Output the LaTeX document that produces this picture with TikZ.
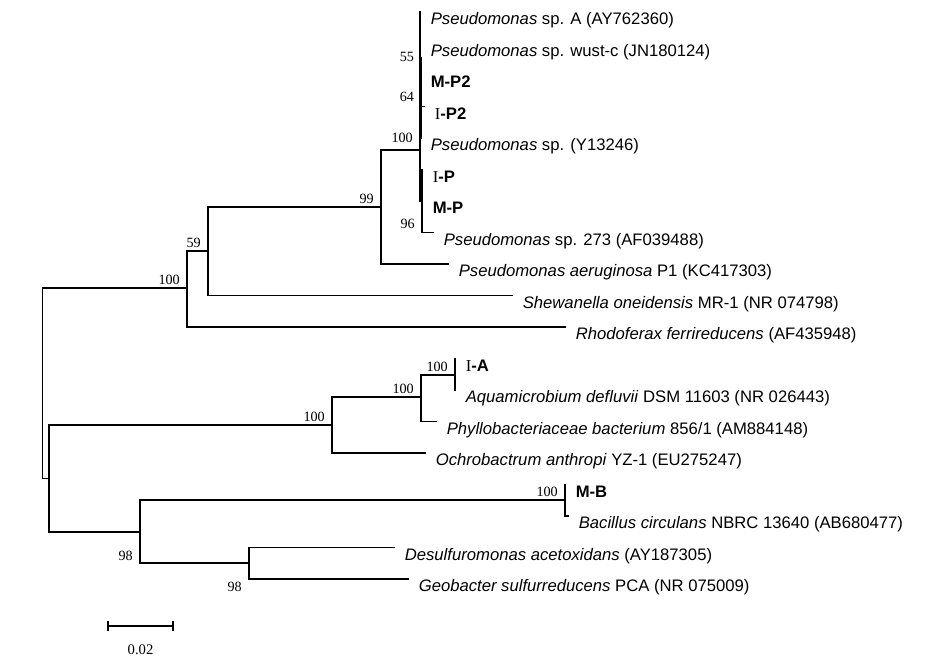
\documentclass[tikz,border=0pt]{standalone}
\usepackage{fontspec}
\setmainfont{Liberation Sans}
\newfontfamily\timesfont{Liberation Serif}
\usepackage{tikz}
\usetikzlibrary{calc}
\tikzset{
	% tree lines, taxon labels and bootstrap values
	branch/.style={line width=1.1pt,line cap=rect},
	leaf/.style={anchor=base west,inner sep=0,xshift=7.9pt,yshift=-9.4pt,font=\fontsize{12.5}{15}\selectfont},
	boot/.style={anchor=base east,inner sep=0,font=\timesfont\fontsize{10.6}{12}\selectfont}
}

\begin{document}
\begin{tikzpicture}[x=0.75pt,y=-0.75pt]
			\useasboundingbox (0,0) rectangle (937,664);
			% macro for bootstrap values, #1 is the baseline offset
			\newcommand{\bootval}[3][-4]{\node[boot] at ($(#2)+(-7,#1)$) {#3};}
			% macro for taxon names at the tips
			\newcommand{\taxon}[2]{\node[leaf] (#1-t) at (#1) {#2};}
			\newcommand{\serI}{{\timesfont I}}
			
			% inner nodes
			\coordinate (0) at (42.7,383);
			\coordinate (0-1) at (187,288);
			\coordinate (0-1-1) at (208,251);
			\coordinate (0-1-1-1) at (381,207);
			\coordinate (0-1-1-1-1) at (420,150);
			\coordinate (0-1-1-1-1-2) at (422,201);
			\coordinate (c55) at (421.3,58);
			\coordinate (c64) at (421.3,97);
			\coordinate (0-2) at (49,478.5);
			\coordinate (0-2-1) at (332,425);
			\coordinate (0-2-1-1) at (421,397);
			\coordinate (0-2-1-1-1) at (455,375);
			\coordinate (0-2-2) at (140,532);
			\coordinate (0-2-2-1) at (565,500);
			\coordinate (0-2-2-2) at (249,563);
			
			% tips
			\coordinate (psA) at (420,12);
			\coordinate (wust) at (420,43.5);
			\coordinate (mp2) at (420,75);
			\coordinate (ip2) at (424,106.5);
			\coordinate (y13) at (420,138);
			\coordinate (ip) at (422,169.5);
			\coordinate (mp) at (422,201);
			\coordinate (p273) at (433,232.5);
			\coordinate (aer) at (448,264);
			\coordinate (shew) at (512,295.5);
			\coordinate (rhod) at (565,327);
			\coordinate (ia) at (455,358.5);
			\coordinate (aqua) at (455,390);
			\coordinate (phyl) at (436,421.5);
			\coordinate (ochr) at (425,453);
			\coordinate (mb) at (565,484.5);
			\coordinate (baci) at (568,516);
			\coordinate (desu) at (394,547.5);
			\coordinate (geob) at (408,579);
			
			% branches
			\draw[branch] (0) |- (0-1);
			\draw[branch] (0) |- (0-2);
			\draw[branch] (0-1) |- (0-1-1);
			\draw[branch] (0-1) |- (rhod);
			\draw[branch] (0-1-1) |- (0-1-1-1);
			\draw[branch] (0-1-1) |- (shew);
			\draw[branch] (0-1-1-1) |- (0-1-1-1-1);
			\draw[branch] (0-1-1-1) |- (aer);
			\draw[branch] (0-1-1-1-1) |- (psA);
			\draw[branch] (0-1-1-1-1) |- (0-1-1-1-1-2);
			\draw[branch] (c55) |- (y13);
			\draw[branch] (c64) |- (ip2);
			\draw[branch] (0-1-1-1-1-2) |- (ip);
			\draw[branch] (0-1-1-1-1-2) |- (p273);
			\draw[branch] (0-2) |- (0-2-1);
			\draw[branch] (0-2) |- (0-2-2);
			\draw[branch] (0-2-1) |- (0-2-1-1);
			\draw[branch] (0-2-1) |- (ochr);
			\draw[branch] (0-2-1-1) |- (0-2-1-1-1);
			\draw[branch] (0-2-1-1) |- (phyl);
			\draw[branch] (0-2-1-1-1) |- (ia);
			\draw[branch] (0-2-1-1-1) |- (aqua);
			\draw[branch] (0-2-2) |- (0-2-2-1);
			\draw[branch] (0-2-2) |- (0-2-2-2);
			\draw[branch] (0-2-2-1) |- (mb);
			\draw[branch] (0-2-2-1) |- (baci);
			\draw[branch] (0-2-2-2) |- (desu);
			\draw[branch] (0-2-2-2) |- (geob);
			
			\taxon{psA}{\textit{Pseudomonas} sp. A (AY762360)}
			\taxon{wust}{\textit{Pseudomonas} sp. wust-c (JN180124)}
			\taxon{mp2}{\textbf{M-P2}}
			\taxon{ip2}{\serI\textbf{-P2}}
			\taxon{y13}{\textit{Pseudomonas} sp. (Y13246)}
			\taxon{ip}{\serI\textbf{-P}}
			\taxon{mp}{\textbf{M-P}}
			\taxon{p273}{\textit{Pseudomonas} sp. 273 (AF039488)}
			\taxon{aer}{\textit{Pseudomonas aeruginosa} P1 (KC417303)}
			\taxon{shew}{\textit{Shewanella oneidensis} MR-1 (NR 074798)}
			\taxon{rhod}{\textit{Rhodoferax ferrireducens} (AF435948)}
			\taxon{ia}{\serI\textbf{-A}}
			\taxon{aqua}{\textit{Aquamicrobium defluvii} DSM 11603 (NR 026443)}
			\taxon{phyl}{\textit{Phyllobacteriaceae bacterium} 856/1 (AM884148)}
			\taxon{ochr}{\textit{Ochrobactrum anthropi} YZ-1 (EU275247)}
			\taxon{mb}{\textbf{M-B}}
			\taxon{baci}{\textit{Bacillus circulans} NBRC 13640 (AB680477)}
			\taxon{desu}{\textit{Desulfuromonas acetoxidans} (AY187305)}
			\taxon{geob}{\textit{Geobacter sulfurreducens} PCA (NR 075009)}
			
			\bootval[3]{c55}{55}
			\bootval[4]{c64}{64}
			\bootval[-8]{0-1-1-1-1}{100}
			\bootval{0-1-1-1}{99}
			\bootval[27]{0-1-1-1-1-2}{96}
			\bootval{0-1-1}{59}
			\bootval{0-1}{100}
			\bootval{0-2-1-1-1}{100}
			\bootval{0-2-1-1}{100}
			\bootval{0-2-1}{100}
			\bootval{0-2-2-1}{100}
			\bootval[28]{0-2-2}{98}
			\bootval[28]{0-2-2-2}{98}
			
			% scale bar
			\coordinate (sb1) at (108,626);
			\coordinate (sb2) at (173,626);
			\draw[line width=1.1pt] (sb1) -- (sb2);
			\draw[line width=1.1pt] ($(sb1)+(0,-5)$) -- ($(sb1)+(0,5)$);
			\draw[line width=1.1pt] ($(sb2)+(0,-5)$) -- ($(sb2)+(0,5)$);
			\node[font=\timesfont\fontsize{11}{13}\selectfont] (sblabel) at ($(sb1)!0.5!(sb2)+(0,24)$) {0.02};
		\end{tikzpicture}
\end{document}
